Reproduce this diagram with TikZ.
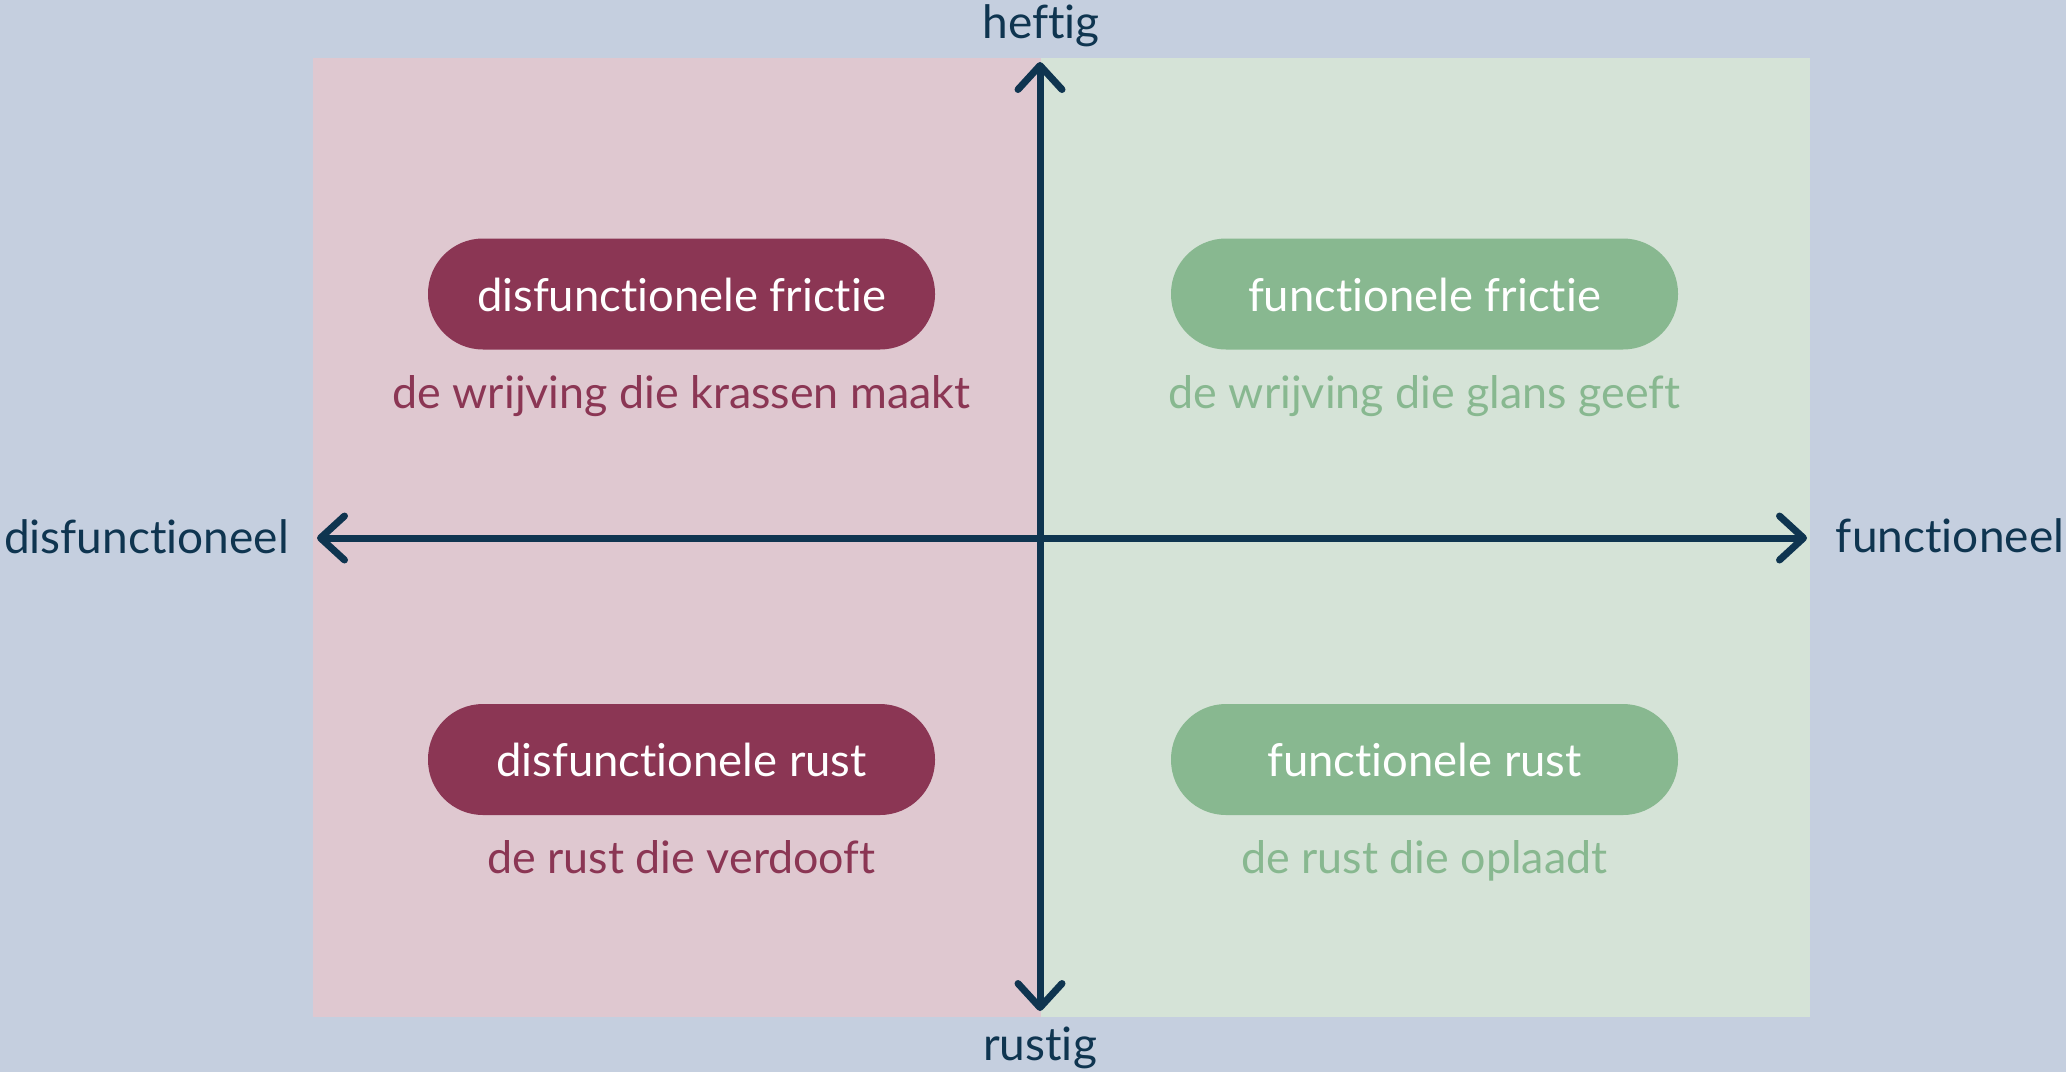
\documentclass[tikz,border=0pt]{standalone}
\usepackage{fontspec}
\setmainfont{Lato}[Ligatures={NoCommon,NoRequired,NoContextual}]
\usetikzlibrary{arrows.meta}
\definecolor{bgc}{HTML}{C5CFDF}
\definecolor{pinkbg}{HTML}{DFC8D0}
\definecolor{greenbg}{HTML}{D5E3D7}
\definecolor{redc}{HTML}{8B3654}
\definecolor{greenc}{HTML}{88B890}
\definecolor{axisc}{HTML}{0F3550}
\tikzset{
  axisline/.style={draw=axisc, line width=3.5pt, line cap=round,
    -{Straight Barb[length=12pt, width=22pt, line width=3.5pt, line cap=round, round]}},
  axislabel/.style={text=axisc, font=\fontsize{23}{27}\selectfont, anchor=base, inner sep=0pt},
  pill/.style={rounded corners=27.5pt, minimum width=253.5pt, minimum height=55.5pt, inner sep=0pt},
  redpill/.style={pill, fill=redc},
  greenpill/.style={pill, fill=greenc},
  pilltext/.style={text=white, font=\fontsize{22.7}{27}\selectfont, anchor=base, inner sep=0pt},
  sub/.style={font=\fontsize{22.4}{27}\selectfont, anchor=base, inner sep=0pt},
}
\begin{document}
\begin{tikzpicture}[x=0.5pt,y=-0.5pt]
\useasboundingbox (0,0) rectangle (2066,1072);
\fill[bgc] (0,0) rectangle (2066,1072);
\fill[pinkbg] (313,58) rectangle (1041,1017);
\fill[greenbg] (1041,58) rectangle (1810,1017);
% pills
\node[redpill] (p1) at (681.5,294) {};
\node[pilltext] (t1) at (681.5,311) {disfunctionele frictie};
\node[sub, text=redc] (s1) at (681.5,408) {de wrijving die krassen maakt};
\node[redpill] (p2) at (681.5,759.5) {};
\node[pilltext] (t2) at (681.5,776) {disfunctionele rust};
\node[sub, text=redc] (s2) at (681.5,873) {de rust die verdooft};
\node[greenpill] (p3) at (1424.5,294) {};
\node[pilltext] (t3) at (1424.5,311) {functionele frictie};
\node[sub, text=greenc] (s3) at (1424.5,408) {de wrijving die glans geeft};
\node[greenpill] (p4) at (1424.5,759.5) {};
\node[pilltext] (t4) at (1424.5,776) {functionele rust};
\node[sub, text=greenc] (s4) at (1424.5,873) {de rust die oplaadt};
% axes
\coordinate (c) at (1040,538);
\coordinate (top) at (1040,62);
\coordinate (bot) at (1040,1011);
\coordinate (lft) at (317,538);
\coordinate (rgt) at (1807,538);
\draw[axisline] (c) -- (top);
\draw[axisline] (c) -- (bot);
\draw[axisline] (c) -- (lft);
\draw[axisline] (c) -- (rgt);
\node[axislabel] (lh) at (1041,38) {heftig};
\node[axislabel] (lr) at (1040,1060) {rustig};
\node[axislabel] (ld) at (146.5,553) {disfunctioneel};
\node[axislabel] (lf) at (1950,552) {functioneel};
\end{tikzpicture}
\end{document}
